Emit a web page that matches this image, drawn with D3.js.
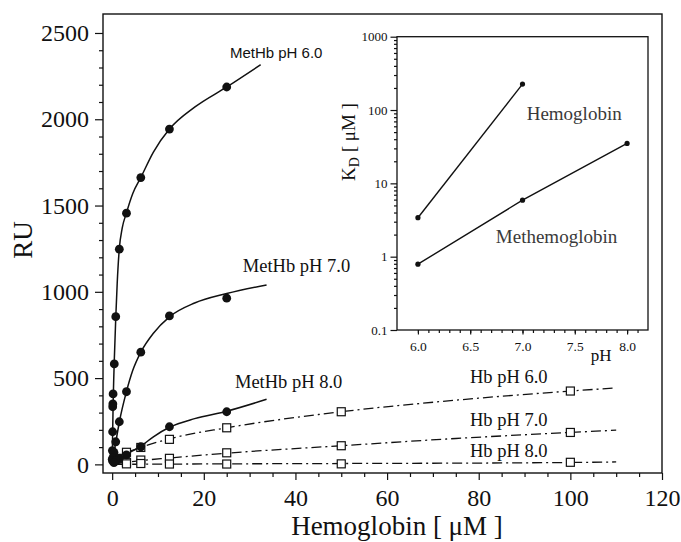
<!DOCTYPE html>
<html>
<head>
<meta charset="utf-8">
<script src="https://cdn.jsdelivr.net/npm/d3@7/dist/d3.min.js"></script>
<style>
  body { margin: 0; background: #fff; }
  svg { display: block; }
</style>
</head>
<body>
<div id="chart"></div>
<script>
const SERIF = '"Liberation Serif", "Times New Roman", serif';
const SANS = '"Liberation Sans", Arial, sans-serif';

// measured points (concentration in uM, response in RU)
const metHb6X = [25, 12.5, 6.25, 3.125, 1.5625, 0.78, 0.46, 0.2, 0.15, 0.12, 0.1, 0.05, 0.02];
const metHb6Y = [2187, 1943, 1662, 1456, 1247, 856, 582, 408, 350, 334, 189, 80, 30];
const metHb7X = [25, 12.5, 6.25, 3.125, 1.5625, 0.78, 0.39, 0.2, 0.1];
const metHb7Y = [963, 860, 650, 421, 247, 131, 70, 40, 20];
const metHb8X = [25, 12.5, 6.25, 3.125, 1.5625, 0.78, 0.39];
const metHb8Y = [305, 218, 102, 55, 35, 20, 10];
const hb6X = [100, 50, 25, 12.5, 6.25, 3.125, 1.5625];
const hb6Y = [425, 305, 212, 145, 98, 70, 35];
const hb7X = [100, 50, 25, 12.5, 6.25, 3.125];
const hb7Y = [185, 108, 67, 35, 25, 12];
const hb8X = [100, 50, 25, 12.5, 6.25, 3.125];
const hb8Y = [12, 3, 2, 2, 5, 3];

// fitted curves
const fit6 = [[0,0],[0.1,170],[0.2,330],[0.46,600],[0.8,860],[1.1,1050],[1.55,1247],[2.2,1370],[3.1,1456],[4.5,1570],[6.25,1662],[9,1810],[12.5,1943],[18,2070],[25,2187],[32.4,2316]];
const fit7 = [[0,0],[0.8,130],[1.6,250],[3.1,420],[4.5,545],[6.25,650],[9,760],[12.5,855],[18,935],[25,990],[33.7,1040]];
const fit8 = [[0,0],[1,30],[3.1,60],[6.25,105],[9,160],[12.5,215],[18,265],[25,308],[33.7,377]];
const fitHb6 = [[0,0],[3,65],[6.25,98],[12.5,148],[25,212],[50,305],[75,372],[100,425],[110,443]];
const fitHb7 = [[0,0],[6.25,22],[12.5,37],[25,65],[50,108],[75,150],[100,185],[110,198]];
const fitHb8 = [[0,0],[25,3],[50,5],[100,11],[110,14]];

// inset: KD vs pH
const insetPH = [6.0, 7.0, 8.0];
const kdHb = [3.4, 226];
const kdMetHb = [0.79, 5.9, 35];

const xTicks = [0, 20, 40, 60, 80, 100, 120];
const yTicks = [0, 500, 1000, 1500, 2000, 2500];
const insetXTicks = [6.0, 6.5, 7.0, 7.5, 8.0];
const insetYTicks = [0.1, 1, 10, 100, 1000];

const mainLabels = [
  {text: 'MetHb pH 6.0', x: 25.7, y: 2355, sans: true},
  {text: 'MetHb pH 7.0', x: 28.5, y: 1115},
  {text: 'MetHb pH 8.0', x: 26.8, y: 443},
  {text: 'Hb pH 6.0', x: 78.1, y: 470},
  {text: 'Hb pH 7.0', x: 78.1, y: 222},
  {text: 'Hb pH 8.0', x: 78.1, y: 41}
];
const insetLabels = [
  {text: 'Hemoglobin', x: 7.04, y: 72},
  {text: 'Methemoglobin', x: 6.745, y: 1.54}
];

const W = 681, H = 542;
const svg = d3.select('#chart').append('svg').attr('width', W).attr('height', H);

const x = d3.scaleLinear().domain([-2, 120]).range([103, 662]);
const y = d3.scaleLinear().domain([-50, 2610]).range([473, 14]);

// axes
function styleAxis(g, size) {
  g.select('.domain').remove();
  g.selectAll('line').attr('stroke', '#111').attr('stroke-width', 1.2);
  g.selectAll('text').style('font-family', SERIF).style('font-size', size + 'px').attr('fill', '#111');
}
svg.append('g').attr('transform', 'translate(0,473)')
  .call(d3.axisBottom(x).tickValues(d3.range(0, 121, 5).filter(d => d % 20)).tickSize(4).tickFormat(() => ''))
  .call(g => styleAxis(g, 24));
svg.append('g').attr('transform', 'translate(0,473)')
  .call(d3.axisBottom(x).tickValues(xTicks).tickSize(7).tickPadding(9).tickFormat(d3.format('d')))
  .call(g => styleAxis(g, 24));
svg.append('g').attr('transform', 'translate(103,0)')
  .call(d3.axisLeft(y).tickValues(d3.range(0, 2501, 100).filter(d => d % 500)).tickSize(4).tickFormat(() => ''))
  .call(g => styleAxis(g, 24));
svg.append('g').attr('transform', 'translate(103,0)')
  .call(d3.axisLeft(y).tickValues(yTicks).tickSize(8).tickPadding(6).tickFormat(d3.format('d')))
  .call(g => styleAxis(g, 24));

svg.append('rect').attr('x', 103).attr('y', 14).attr('width', 559).attr('height', 459)
  .attr('fill', 'none').attr('stroke', '#111').attr('stroke-width', 1.4);

svg.append('text').style('font-family', SERIF).attr('transform', 'translate(32,240) rotate(-90)')
  .attr('text-anchor', 'middle').style('font-size', '27px').attr('fill', '#111').text('RU');
svg.append('text').style('font-family', SERIF).attr('x', 397).attr('y', 535)
  .attr('text-anchor', 'middle').style('font-size', '27px').attr('fill', '#111').text('Hemoglobin [ μM ]');

// curves
const line = d3.line().x(d => x(d[0])).y(d => y(d[1])).curve(d3.curveMonotoneX);
[fit6, fit7, fit8].forEach(f => {
  svg.append('path').attr('d', line(f)).attr('fill', 'none').attr('stroke', '#111').attr('stroke-width', 1.5);
});
[fitHb6, fitHb7, fitHb8].forEach(f => {
  svg.append('path').attr('d', line(f)).attr('fill', 'none').attr('stroke', '#111')
    .attr('stroke-width', 1.3).attr('stroke-dasharray', '10,4,2,4');
});

// markers
[[hb6X, hb6Y], [hb7X, hb7Y], [hb8X, hb8Y]].forEach(([xs, ys]) => {
  svg.append('g').selectAll('rect').data(xs).join('rect')
    .attr('x', d => x(d) - 4).attr('y', (d, i) => y(ys[i]) - 4)
    .attr('width', 8).attr('height', 8)
    .attr('fill', '#fff').attr('stroke', '#111').attr('stroke-width', 1.2);
});
[[metHb6X, metHb6Y], [metHb7X, metHb7Y], [metHb8X, metHb8Y]].forEach(([xs, ys]) => {
  svg.append('g').selectAll('circle').data(xs).join('circle')
    .attr('cx', d => x(d)).attr('cy', (d, i) => y(ys[i])).attr('r', 4.4).attr('fill', '#111');
});

svg.append('g').selectAll('text').data(mainLabels).join('text')
  .style('font-family', d => d.sans ? SANS : SERIF)
  .attr('x', d => x(d.x)).attr('y', d => y(d.y))
  .style('font-size', d => d.sans ? '15px' : '18.5px').attr('fill', '#111')
  .text(d => d.text);

// inset
const xi = d3.scaleLinear().domain([5.8, 8.2]).range([397, 648]);
const yi = d3.scaleLog().domain([0.1, 1000]).range([330, 36.7]);

const minorLog = [];
[0.1, 1, 10, 100].forEach(b => { for (let k = 2; k <= 9; k++) minorLog.push(b * k); });

svg.append('g').attr('transform', 'translate(0,330)')
  .call(d3.axisBottom(xi).tickValues(d3.range(60, 82, 1).map(d => d / 10)).tickSize(3).tickFormat(() => ''))
  .call(g => styleAxis(g, 13));
svg.append('g').attr('transform', 'translate(0,330)')
  .call(d3.axisBottom(xi).tickValues(insetXTicks).tickSize(4.5).tickPadding(7).tickFormat(d3.format('.1f')))
  .call(g => styleAxis(g, 13.5));
svg.append('g').attr('transform', 'translate(397,0)')
  .call(d3.axisLeft(yi).tickValues(minorLog).tickSize(3).tickFormat(() => ''))
  .call(g => styleAxis(g, 13));
svg.append('g').attr('transform', 'translate(397,0)')
  .call(d3.axisLeft(yi).tickValues(insetYTicks).tickSize(6.5).tickPadding(3).tickFormat(d => String(d)))
  .call(g => styleAxis(g, 13));

svg.append('rect').attr('x', 397).attr('y', 36.7).attr('width', 251).attr('height', 293.3)
  .attr('fill', 'none').attr('stroke', '#111').attr('stroke-width', 1.3);

const kd = svg.append('text').style('font-family', SERIF).attr('transform', 'translate(355,142) rotate(-90)')
  .attr('text-anchor', 'middle').style('font-size', '19px').attr('fill', '#111');
kd.append('tspan').text('K');
kd.append('tspan').attr('baseline-shift', '-25%').style('font-size', '14px').text('D');
kd.append('tspan').text(' [ μM ]');

svg.append('text').style('font-family', SERIF).attr('x', 590.7).attr('y', 361)
  .style('font-size', '17px').attr('fill', '#111').text('pH');

const lineI = d3.line().x(d => xi(d[0])).y(d => yi(d[1]));
const hbPts = kdHb.map((v, i) => [insetPH[i], v]);
const metPts = kdMetHb.map((v, i) => [insetPH[i], v]);
[hbPts, metPts].forEach(p => {
  svg.append('path').attr('d', lineI(p)).attr('fill', 'none').attr('stroke', '#111').attr('stroke-width', 1.4);
  svg.append('g').selectAll('circle').data(p).join('circle')
    .attr('cx', d => xi(d[0])).attr('cy', d => yi(d[1])).attr('r', 2.6).attr('fill', '#111');
});

svg.append('g').selectAll('text').data(insetLabels).join('text')
  .style('font-family', SERIF).attr('x', d => xi(d.x)).attr('y', d => yi(d.y))
  .style('font-size', '19px').attr('fill', '#3a3a3a').text(d => d.text);
</script>
</body>
</html>
